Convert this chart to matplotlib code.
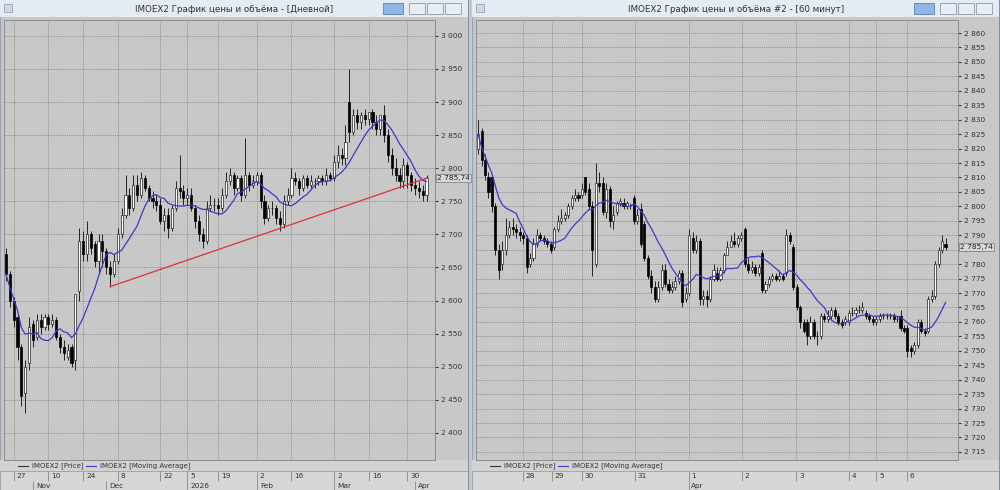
import numpy as np
import pandas as pd
import matplotlib.pyplot as plt
from matplotlib.patches import Rectangle
from matplotlib.ticker import FuncFormatter, MultipleLocator

plt.rcParams['font.family'] = ['DejaVu Sans']

# ---- daily panel data ----
day_open = [2670,2640,2600,2575,2530,2460,2505,2565,2545,2570,
            2560,2575,2565,2570,2545,2530,2515,2530,2510,2615,
            2690,2670,2700,2685,2660,2690,2675,2650,2640,2660,
            2700,2730,2760,2740,2775,2760,2785,2770,2755,2750,
            2745,2720,2730,2710,2740,2770,2765,2755,2760,2740,
            2720,2700,2690,2740,2745,2745,2740,2760,2780,2790,
            2770,2785,2760,2790,2775,2780,2790,2750,2725,2740,
            2740,2725,2715,2750,2760,2785,2780,2770,2785,2775,
            2780,2780,2785,2780,2790,2785,2810,2820,2815,2900,
            2855,2880,2870,2880,2875,2885,2870,2860,2880,2850,
            2820,2800,2790,2780,2805,2790,2775,2770,2765,2760]
day_close = [2640,2600,2570,2530,2455,2500,2560,2540,2570,2560,
             2575,2565,2570,2545,2530,2520,2525,2505,2610,2690,
             2670,2700,2680,2660,2690,2675,2650,2640,2660,2700,
             2730,2760,2740,2775,2760,2785,2770,2755,2750,2745,
             2720,2730,2710,2740,2770,2765,2755,2760,2740,2720,
             2700,2690,2740,2745,2745,2740,2760,2780,2790,2770,
             2785,2760,2790,2775,2780,2790,2750,2725,2740,2740,
             2725,2715,2750,2760,2785,2780,2770,2785,2775,2780,
             2780,2785,2780,2790,2785,2810,2820,2815,2840,2855,
             2880,2870,2880,2875,2885,2870,2860,2880,2850,2820,
             2800,2790,2780,2805,2790,2775,2770,2765,2760,2785]
day_high = [2680,2645,2605,2580,2535,2510,2575,2570,2580,2580,
            2580,2580,2580,2575,2550,2540,2535,2535,2560,2710,
            2705,2720,2705,2690,2700,2700,2680,2660,2670,2710,
            2740,2790,2770,2790,2790,2795,2790,2775,2765,2760,
            2755,2740,2740,2745,2780,2820,2775,2770,2770,2745,
            2730,2710,2750,2760,2755,2755,2770,2795,2800,2795,
            2790,2790,2845,2795,2790,2795,2795,2760,2745,2750,
            2745,2735,2760,2770,2800,2795,2785,2790,2790,2790,
            2785,2790,2790,2800,2795,2820,2835,2830,2865,2950,
            2890,2890,2885,2890,2885,2890,2880,2870,2895,2860,
            2830,2815,2800,2815,2810,2795,2785,2780,2775,2790]
day_low = [2630,2590,2560,2510,2440,2430,2495,2530,2540,2550,
           2555,2555,2560,2540,2520,2510,2510,2500,2495,2600,
           2660,2660,2670,2650,2640,2650,2640,2620,2635,2655,
           2695,2725,2730,2735,2750,2755,2765,2750,2740,2735,
           2715,2705,2695,2705,2735,2755,2745,2745,2735,2710,
           2690,2680,2685,2735,2735,2730,2735,2755,2775,2760,
           2765,2750,2755,2765,2770,2775,2740,2715,2720,2730,
           2715,2705,2710,2745,2755,2775,2760,2765,2770,2770,
           2770,2775,2775,2775,2780,2780,2800,2805,2805,2840,
           2850,2860,2860,2865,2865,2860,2850,2850,2840,2810,
           2790,2780,2770,2770,2770,2765,2760,2755,2750,2750]
day_tick_pos = [2, 11, 20, 29, 40, 47, 55, 65, 74, 85, 94, 104]
day_tick_lab = ['27', '10', '24', '8', '22', '5', '19', '2', '16', '2', '16', '30']
day_month_pos = [7, 26, 47, 65, 85, 106]
day_month_lab = ['Nov', 'Dec', '2026', 'Feb', 'Mar', 'Apr']
trend_x = [27, 109]
trend_y = [2621, 2785]

# ---- hourly panel data ----
hr_open = [2820,2826,2816,2810,2810,2800,2785,2780,2785,2790,
           2793,2792,2791,2790,2789,2780,2782,2787,2790,2789,
           2788,2787,2786,2792,2795,2796,2797,2800,2803,2804,
           2804,2810,2806,2800,2780,2808,2808,2798,2806,2795,
           2798,2801,2801,2800,2800,2803,2795,2799,2794,2782,
           2776,2772,2768,2772,2778,2773,2771,2772,2774,2777,
           2768,2770,2789,2785,2788,2768,2769,2768,2775,2777,
           2775,2778,2783,2786,2788,2787,2789,2792,2780,2778,
           2779,2777,2784,2771,2773,2775,2776,2775,2776,2777,
           2790,2786,2772,2765,2760,2760,2755,2760,2755,2755,
           2762,2761,2762,2764,2762,2760,2760,2760,2763,2763,
           2764,2764,2763,2762,2761,2760,2761,2762,2762,2762,
           2762,2761,2762,2758,2758,2751,2750,2752,2760,2757,
           2757,2768,2769,2780,2785,2787]
hr_close = [2825,2816,2811,2805,2800,2785,2778,2785,2790,2793,
            2792,2791,2790,2789,2779,2782,2787,2790,2789,2788,
            2787,2785,2792,2795,2796,2797,2800,2803,2804,2803,
            2806,2805,2800,2785,2808,2807,2798,2806,2795,2797,
            2801,2802,2800,2801,2800,2795,2797,2787,2782,2776,
            2772,2768,2772,2778,2773,2771,2772,2774,2777,2767,
            2770,2790,2785,2788,2768,2769,2768,2775,2778,2775,
            2778,2783,2786,2788,2787,2789,2790,2780,2778,2779,
            2777,2779,2771,2773,2775,2776,2775,2776,2775,2790,
            2788,2772,2765,2760,2757,2755,2760,2755,2755,2762,
            2761,2762,2764,2762,2760,2759,2761,2763,2763,2764,
            2764,2765,2762,2761,2760,2761,2762,2762,2762,2762,
            2761,2761,2758,2757,2750,2750,2752,2760,2757,2756,
            2768,2769,2780,2785,2788,2786]
hr_high = [2830,2827,2818,2812,2811,2801,2787,2788,2796,2795,
           2796,2794,2793,2791,2790,2784,2789,2792,2791,2790,
           2789,2788,2793,2797,2799,2798,2801,2804,2806,2805,
           2808,2810,2808,2802,2815,2812,2810,2808,2807,2800,
           2802,2803,2803,2802,2801,2804,2799,2801,2795,2783,
           2778,2774,2774,2780,2780,2775,2774,2776,2778,2778,
           2772,2792,2791,2790,2789,2771,2771,2776,2780,2779,
           2779,2784,2788,2790,2791,2790,2791,2793,2782,2781,
           2780,2780,2785,2774,2776,2777,2777,2778,2777,2792,
           2791,2787,2773,2766,2761,2761,2762,2761,2757,2763,
           2763,2764,2765,2765,2763,2761,2762,2764,2765,2765,
           2766,2767,2764,2763,2762,2762,2763,2763,2763,2763,
           2763,2762,2764,2759,2759,2752,2753,2761,2761,2758,
           2769,2771,2781,2786,2790,2789]
hr_low = [2818,2814,2809,2803,2798,2783,2775,2778,2783,2789,
          2790,2789,2788,2787,2777,2779,2781,2786,2788,2787,
          2786,2784,2785,2791,2794,2795,2796,2799,2802,2802,
          2803,2804,2799,2776,2779,2805,2797,2796,2793,2792,
          2797,2800,2799,2799,2799,2794,2794,2786,2781,2775,
          2770,2767,2767,2771,2772,2770,2770,2771,2773,2765,
          2767,2769,2784,2784,2766,2766,2765,2767,2774,2774,
          2774,2777,2785,2786,2786,2786,2788,2779,2777,2777,
          2776,2776,2770,2770,2772,2774,2774,2774,2774,2776,
          2787,2771,2764,2758,2756,2752,2754,2754,2752,2754,
          2760,2760,2761,2761,2759,2758,2759,2759,2762,2762,
          2763,2763,2761,2760,2759,2759,2760,2761,2761,2761,
          2760,2760,2757,2756,2748,2748,2749,2751,2756,2755,
          2756,2767,2768,2779,2784,2785]
hr_tick_pos = [13, 21.3, 30, 45.3, 60.8, 76.1, 91.9, 107.2, 115, 123.9]
hr_tick_lab = ['28', '29', '30', '31', '1', '2', '3', '4', '5', '6']
hr_month_pos = [60.8]
hr_month_lab = ['Apr']

last_price_label = '2 785,74'

W, H = 1000, 490
fig = plt.figure(figsize=(10, 4.9), dpi=100)
fig.patch.set_facecolor('#c8c8c8')


def rect(x, y, w, h):
    return [x / W, 1 - (y + h) / H, w / W, h / H]


def fmt(v, _):
    s = f'{int(round(v)):,}'.replace(',', ' ')
    return s


def window(x0, w, title):
    bg = fig.add_axes(rect(x0, 0, w, H))
    bg.set_xlim(0, w)
    bg.set_ylim(H, 0)
    bg.axis('off')
    bg.add_patch(Rectangle((0, 0), w, H, facecolor='#c8c8c8', edgecolor='#9aa6b4', lw=1))
    bg.add_patch(Rectangle((0, 0), w, 17, facecolor='#e4ebf3', edgecolor='none'))
    bg.add_patch(Rectangle((0, 460), w, 11, facecolor='#d2d2d2', edgecolor='none'))
    bg.add_patch(Rectangle((0, 471), w, 19, facecolor='#d6d6d6', edgecolor='#a0a0a0', lw=0.6))
    bg.text(w / 2, 9, title, ha='center', va='center', fontsize=6.3, color='#333333')
    bg.add_patch(Rectangle((4, 4), 8, 8, facecolor='#cfd9e6', edgecolor='#8a99aa', lw=0.5))
    bg.add_patch(Rectangle((w - 86, 3), 20, 11, facecolor='#8fb6e6', edgecolor='#5a82b8', lw=0.6))
    for k in range(3):
        bg.add_patch(Rectangle((w - 60 + k * 18, 3), 16, 11, facecolor='#e8edf3',
                               edgecolor='#8a99aa', lw=0.6))
    bg.add_patch(Rectangle((w - 1.5, 0), 1.5, H, facecolor='#7f8fa0', edgecolor='none'))
    return bg


def candles(ax, o, h, l, c, ma_n, body_w=0.6):
    x = np.arange(len(c))
    o = np.array(o, float); c = np.array(c, float)
    ax.vlines(x, l, h, color='#222222', lw=0.7, zorder=3)
    up = c >= o
    ax.bar(x[up], c[up] - o[up], bottom=o[up], width=body_w, color='white',
           edgecolor='#222222', lw=0.5, zorder=4)
    ax.bar(x[~up], o[~up] - c[~up], bottom=c[~up], width=body_w, color='black',
           edgecolor='black', lw=0.5, zorder=4)
    ma = pd.Series(c).rolling(ma_n, min_periods=1).mean()
    ax.plot(x, ma, color='#3a3ac8', lw=0.9, zorder=5)
    return x


def style(ax, ylo, yhi, step, xlo, xhi, ticks):
    ax.set_facecolor('#c8c8c8')
    ax.set_ylim(ylo, yhi)
    ax.set_xlim(xlo, xhi)
    ax.yaxis.tick_right()
    ax.yaxis.set_major_locator(MultipleLocator(step))
    ax.yaxis.set_major_formatter(FuncFormatter(fmt))
    ax.tick_params(axis='y', labelsize=5.3, length=2, pad=2, colors='#333333')
    ax.set_xticks(ticks)
    ax.tick_params(axis='x', labelbottom=False, length=0)
    ax.grid(True, color='#7a7a7a', ls=(0, (1.5, 1.5)), lw=0.5)
    for s in ax.spines.values():
        s.set_color('#8c8c8c')
        s.set_linewidth(0.7)


def date_strip(x0, w, xlo, xhi, pos, lab, mpos, mlab):
    ax = fig.add_axes(rect(x0, 471, w, 19))
    ax.set_xlim(xlo, xhi)
    ax.set_ylim(1, 0)
    ax.axis('off')
    ax.vlines(pos, 0, 0.5, color='#777777', lw=0.5)
    for p, t in zip(pos, lab):
        ax.text(p + 0.8, 0.28, t, fontsize=5.3, va='center', ha='left', color='#333333')
    ax.vlines(mpos, 0.5, 1, color='#777777', lw=0.5)
    for p, t in zip(mpos, mlab):
        ax.text(p + 0.8, 0.78, t, fontsize=5.3, va='center', ha='left', color='#333333')


def legend(bg, x):
    bg.plot([x, x + 10], [465.5, 465.5], color='#333333', lw=0.8)
    bg.text(x + 14, 465.5, 'IMOEX2 [Price]', fontsize=5, va='center', color='#333333')
    bg.plot([x + 68, x + 78], [465.5, 465.5], color='#3a3ac8', lw=0.8)
    bg.text(x + 82, 465.5, 'IMOEX2 [Moving Average]', fontsize=5, va='center', color='#333333')


def price_box(ax, y):
    ax.text(1.005, y, last_price_label, transform=ax.get_yaxis_transform(), fontsize=5.3,
            va='center', ha='left', color='#222222', zorder=6, clip_on=False,
            bbox=dict(boxstyle='square,pad=0.15', fc='#d8d8d8', ec='#777777', lw=0.5))


# left window
bgL = window(0, 469, 'IMOEX2 График цены и объёма - [Дневной]')
axL = fig.add_axes(rect(4, 20, 431, 440))
candles(axL, day_open, day_high, day_low, day_close, 9, body_w=0.55)
axL.plot(trend_x, trend_y, color='#e03030', lw=0.9, zorder=5)
style(axL, 2359, 3024, 50, -0.5, 111.2, day_tick_pos)
price_box(axL, day_close[-1])
legend(bgL, 18)
date_strip(4, 431, -0.5, 111.2, day_tick_pos, day_tick_lab, day_month_pos, day_month_lab)

# right window
bgR = window(472, 528, 'IMOEX2 График цены и объёма #2 - [60 минут]')
axR = fig.add_axes(rect(476, 20, 482, 440))
candles(axR, hr_open, hr_high, hr_low, hr_close, 12, body_w=0.6)
style(axR, 2712.2, 2864.5, 5, -0.6, 138.6, hr_tick_pos)
price_box(axR, hr_close[-1])
legend(bgR, 18)
date_strip(476, 482, -0.6, 138.6, hr_tick_pos, hr_tick_lab, hr_month_pos, hr_month_lab)

fig.savefig('out.png', dpi=100, facecolor=fig.get_facecolor())
